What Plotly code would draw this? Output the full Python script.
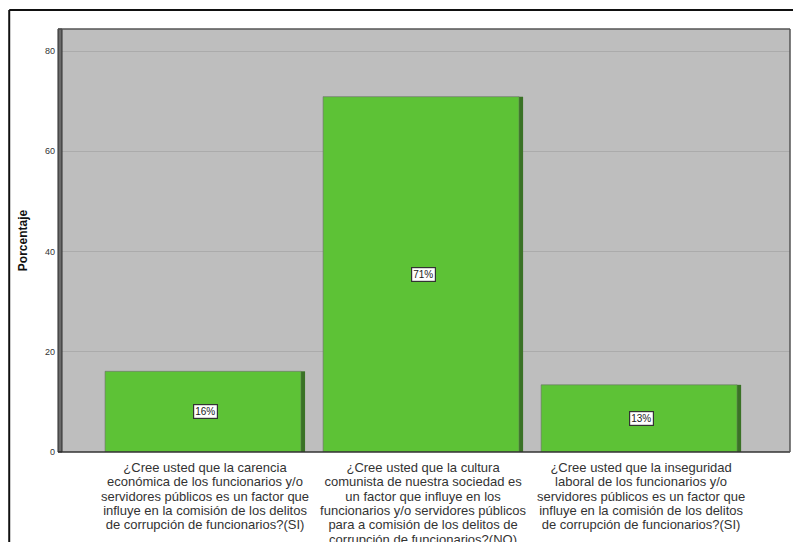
import plotly.graph_objects as go

category_lines = [
    ["¿Cree usted que la carencia", "económica de los funcionarios y/o",
     "servidores públicos es un factor que", "influye en la comisión de los delitos",
     "de corrupción de funcionarios?(SI)"],
    ["¿Cree usted que la cultura", "comunista de nuestra sociedad es",
     "un factor que influye en los", "funcionarios y/o servidores públicos",
     "para a comisión de los delitos de", "corrupción de funcionarios?(NO)"],
    ["¿Cree usted que la inseguridad", "laboral de los funcionarios y/o",
     "servidores públicos es un factor que", "influye en la comisión de los delitos",
     "de corrupción de funcionarios?(SI)"],
]
values = [16.1, 70.9, 13.4]
labels = ["16%", "71%", "13%"]
yticks = [0, 20, 40, 60, 80]

categories = ["<br>".join('<span style="font-size:13px">%s</span>' % ln for ln in lines)
              for lines in category_lines]
xpos = list(range(len(categories)))
FONT = "Arial, Liberation Sans, sans-serif"

fig = go.Figure()
# main face of bars
fig.add_trace(go.Bar(
    x=xpos, y=values, width=0.899, offset=-0.4585,
    marker=dict(color="#5DC236", line=dict(color="#6b6b6b", width=0.6)),
    hoverinfo="skip", showlegend=False,
))
# dark side edge (3D look)
fig.add_trace(go.Bar(
    x=xpos, y=values, width=0.0183, offset=0.4405,
    marker=dict(color="#3A7226", line=dict(width=0)),
    hoverinfo="skip", showlegend=False,
))

for xi, v, lab in zip(xpos, values, labels):
    fig.add_annotation(
        x=xi, y=v / 2, text=lab, showarrow=False,
        font=dict(family=FONT, size=10, color="#222"),
        bgcolor="white", bordercolor="#333", borderwidth=1.2, borderpad=1,
    )

shapes = [
    # left 3D wall
    dict(type="rect", xref="paper", yref="paper", x0=-0.0055, x1=0, y0=0, y1=1,
         fillcolor="#6a6a6a", line=dict(color="#2a2a2a", width=1), layer="above"),
    # bottom axis line
    dict(type="line", xref="paper", yref="paper", x0=-0.0055, x1=1, y0=0, y1=0,
         line=dict(color="#333", width=1.5)),
    # top & right border of plot
    dict(type="line", xref="paper", yref="paper", x0=-0.0055, x1=1, y0=1, y1=1,
         line=dict(color="#555", width=1.5)),
    dict(type="line", xref="paper", yref="paper", x0=1, x1=1, y0=0, y1=1,
         line=dict(color="#555", width=1.5)),
    # outer frame lines
    dict(type="line", xref="paper", yref="paper", x0=-0.0725, x1=1.01, y0=1.0449, y1=1.0449,
         line=dict(color="#111", width=2)),
    dict(type="line", xref="paper", yref="paper", x0=-0.0725, x1=-0.0725, y0=-0.3, y1=1.0449,
         line=dict(color="#111", width=2)),
]

fig.update_layout(
    width=793, height=542,
    margin=dict(l=62, r=3, t=29, b=90),
    paper_bgcolor="white", plot_bgcolor="#BEBEBE",
    barmode="overlay",
    font=dict(family=FONT, color="#333"),
    shapes=shapes,
    xaxis=dict(
        range=[-0.656, 2.683], tickvals=xpos, ticktext=categories,
        tickfont=dict(family=FONT, size=11, color="#333"),
        showgrid=False, zeroline=False, showline=False, ticks="",
        ticklabelstandoff=8, automargin=False,
    ),
    yaxis=dict(
        range=[0, 84.4], tickvals=yticks,
        tickfont=dict(family=FONT, size=9, color="#333"),
        showgrid=True, gridcolor="#ABABAB", gridwidth=1,
        zeroline=False, showline=False, ticks="", ticklabelstandoff=6,
        automargin=False,
        title=dict(text="<b>Porcentaje</b>", font=dict(family=FONT, size=12, color="#111"),
                   standoff=14),
    ),
)

fig.write_html("out.html", config={"displayModeBar": False},
               post_script="document.body.style.margin='0';document.body.style.overflow='hidden';")
